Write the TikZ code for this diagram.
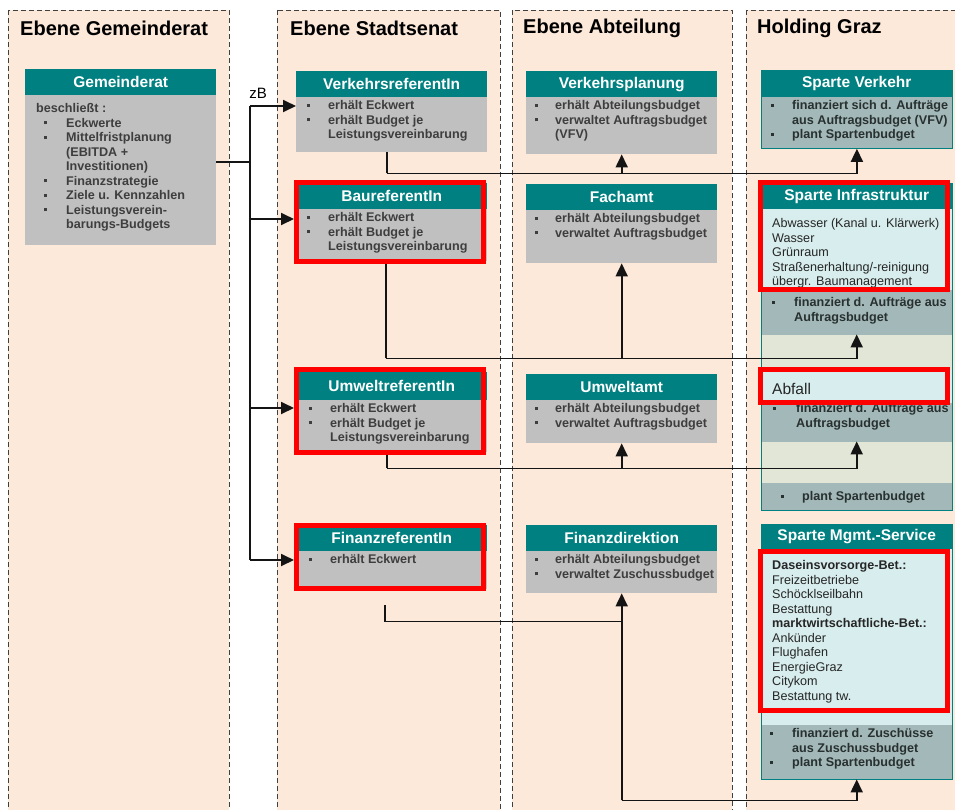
\documentclass[tikz,border=0pt]{standalone}
\usepackage{fontspec}
\setmainfont{Liberation Sans}
\usetikzlibrary{arrows.meta,calc}
\definecolor{peach}{RGB}{253,233,217}
\definecolor{tealh}{RGB}{0,128,128}
\definecolor{boxgrey}{RGB}{192,192,192}
\definecolor{spgrey}{RGB}{163,184,184}
\definecolor{spcyan}{RGB}{216,237,237}
\definecolor{splight}{RGB}{226,230,214}
\definecolor{txtgrey}{RGB}{62,62,62}
\definecolor{txtdark}{RGB}{40,48,48}
\definecolor{lineblk}{RGB}{20,20,20}
\newcommand{\fs}[2]{\fontsize{#1}{#2}\selectfont}
\newcommand{\bul}[1][21]{\makebox[#1pt][l]{\raisebox{2.6pt}{\rule{3.2pt}{3.2pt}}}}
\newcommand{\lns}[1]{\begin{tabular}[t]{@{}l@{}}#1\end{tabular}}
\tikzset{
  colrect/.style={draw=black!75, dash pattern=on 5pt off 3pt, fill=peach, line width=0.9pt},
  gbox/.style={fill=boxgrey, anchor=north west, inner sep=0pt, minimum width=191pt},
  spbox/.style={fill=spgrey, draw=tealh, line width=0.8pt, anchor=north west, inner sep=0pt, minimum width=191pt},
  cyanbox/.style={fill=spcyan, anchor=north west, inner sep=0pt, minimum width=191pt},
  bandbox/.style={fill=spgrey, anchor=north west, inner sep=0pt, minimum width=191pt},
  lightbox/.style={fill=splight, anchor=north west, inner sep=0pt, minimum width=191pt},
  hdr/.style={fill=tealh, anchor=north west, inner sep=0pt, minimum width=191pt, minimum height=26pt, text=white, font=\fs{15.5}{18}\bfseries},
  txt/.style={anchor=base west, inner sep=0pt, text=txtgrey, font=\fs{12.6}{14.5}\bfseries},
  sptxt/.style={anchor=base west, inner sep=0pt, text=txtdark, font=\fs{12.6}{14.5}\bfseries},
  regtxt/.style={anchor=base west, inner sep=0pt, text=black!85, font=\fs{12.6}{14.5}},
  heading/.style={anchor=west, inner sep=0pt, font=\fs{20}{24}\bfseries},
  conn/.style={draw=lineblk, line width=1.8pt},
  arr/.style={conn, -{Triangle[length=13pt,width=12pt]}},
  redframe/.style={draw=red, line width=5pt},
  tealframe/.style={draw=tealh, line width=0.8pt}
}
\begin{document}
\begin{tikzpicture}[x=1pt,y=-1pt]
\clip (0,0) rectangle (955,809);
\fill[white] (0,0) rectangle (955,809);
% columns
\draw[colrect] (8,10) rectangle (229,830);
\draw[colrect] (277,10) rectangle (500,830);
\draw[colrect] (512,10) rectangle (732,830);
\draw[colrect] (746,10) rectangle (975,830);
\node[heading] (h1) at (20,28) {Ebene Gemeinderat};
\node[heading] (h2) at (290,28) {Ebene Stadtsenat};
\node[heading] (h3) at (523,28) {Ebene Abteilung};
\node[heading] (h4) at (757,28) {Holding Graz};

% Gemeinderat
\node[gbox, minimum height=176pt] (gr) at (25,69) {};
\node[hdr] (grh) at (25,69) {Gemeinderat};
\node[txt] (grt) at (36,112.5) {\lns{beschließt :\\
 \hspace*{8pt}\bul[22]Eckwerte\\
 \hspace*{8pt}\bul[22]Mittelfristplanung\\
 \hspace*{30pt}(EBITDA +\\
 \hspace*{30pt}Investitionen)\\
 \hspace*{8pt}\bul[22]Finanzstrategie\\
 \hspace*{8pt}\bul[22]Ziele u. Kennzahlen\\
 \hspace*{8pt}\bul[22]Leistungsverein-\\
 \hspace*{30pt}barungs-Budgets}};

% Stadtsenat
\node[gbox, minimum height=81pt] (vr) at (296,71) {};
\node[hdr] (vrh) at (296,71) {VerkehrsreferentIn};
\node[txt] (vrt) at (307,109.5) {\lns{\bul erhält Eckwert\\ \bul erhält Budget je\\ \hspace*{21pt}Leistungsvereinbarung}};

\node[gbox, minimum height=78pt] (br) at (296,183) {};
\node[hdr] (brh) at (296,183) {BaureferentIn};
\node[txt] (brt) at (307,221.5) {\lns{\bul erhält Eckwert\\ \bul erhält Budget je\\ \hspace*{21pt}Leistungsvereinbarung}};

\node[gbox, minimum height=80pt] (ur) at (296,372) {};
\node[hdr, minimum height=28pt] (urh) at (296,372) {UmweltreferentIn};
\node[txt] (urt) at (309,412.5) {\lns{\bul erhält Eckwert\\ \bul erhält Budget je\\ \hspace*{21pt}Leistungsvereinbarung}};

\node[gbox, minimum height=64pt] (fr) at (296,525) {};
\node[hdr] (frh) at (296,525) {FinanzreferentIn};
\node[txt] (frt) at (309,563.5) {\lns{\bul erhält Eckwert}};

% Abteilung
\node[gbox, minimum height=83pt] (vp) at (526,71) {};
\node[hdr] (vph) at (526,71) {Verkehrsplanung};
\node[txt] (vpt) at (535,109.5) {\lns{\bul[20]erhält Abteilungsbudget\\ \bul[20]verwaltet Auftragsbudget\\ \hspace*{20pt}(VFV)}};

\node[gbox, minimum height=79pt] (fa) at (526,184) {};
\node[hdr] (fah) at (526,184) {Fachamt};
\node[txt] (fat) at (535,222.5) {\lns{\bul[20]erhält Abteilungsbudget\\ \bul[20]verwaltet Auftragsbudget}};

\node[gbox, minimum height=69pt] (ua) at (526,374) {};
\node[hdr] (uah) at (526,374) {Umweltamt};
\node[txt] (uat) at (535,412.5) {\lns{\bul[20]erhält Abteilungsbudget\\ \bul[20]verwaltet Auftragsbudget}};

\node[gbox, minimum height=68pt] (fd) at (526,525) {};
\node[hdr] (fdh) at (526,525) {Finanzdirektion};
\node[txt] (fdt) at (535,563.5) {\lns{\bul[20]erhält Abteilungsbudget\\ \bul[20]verwaltet Zuschussbudget}};

% Holding Graz
\node[spbox, minimum height=78pt] (sv) at (761,70) {};
\node[hdr, minimum height=27pt] (svh) at (761,70) {Sparte Verkehr};
\node[sptxt] (svt) at (771,109.5) {\lns{\bul finanziert sich d. Aufträge\\ \hspace*{21pt}aus Auftragsbudget (VFV)\\ \bul plant Spartenbudget}};

\node[cyanbox, minimum height=107pt] (si) at (761,183) {};
\node[hdr] (sih) at (761,183) {Sparte Infrastruktur};
\node[regtxt] (sit) at (772,227.5) {\lns{Abwasser (Kanal u. Klärwerk)\\ Wasser\\ Grünraum\\ Straßenerhaltung/-reinigung\\ übergr. Baumanagement}};
\node[bandbox, minimum height=45pt] (b1) at (761,290) {};
\node[lightbox, minimum height=35pt] (l1) at (761,335) {};
\node[cyanbox, minimum height=33pt] (abf) at (761,370) {};
\node[bandbox, minimum height=39pt] (b2) at (761,403) {};
\node[lightbox, minimum height=41pt] (l2) at (761,442) {};
\node[bandbox, minimum height=27pt] (b3) at (761,483) {};
\draw[tealframe] (si.north west) rectangle (b3.south east);
\node[sptxt] (b1t) at (772,306.5) {\lns{\bul[22]finanziert d. Aufträge aus\\ \hspace*{22pt}Auftragsbudget}};
\node[sptxt] (b2t) at (773,412.5) {\lns{\bul[23]finanziert d. Aufträge aus\\ \hspace*{23pt}Auftragsbudget}};
\node[sptxt] (b3t) at (781,500.5) {\lns{\bul plant Spartenbudget}};

\node[cyanbox, minimum height=201pt] (smc) at (761,524) {};
\node[bandbox, minimum height=54pt] (smb) at (761,725) {};
\draw[tealframe] (smc.north west) rectangle (smb.south east);
\node[hdr, minimum height=25pt] (smh) at (761,524) {Sparte Mgmt.-Service};
\node[regtxt] (smt) at (772,569.5) {\lns{\textbf{Daseinsvorsorge-Bet.:}\\ Freizeitbetriebe\\ Schöcklseilbahn\\ Bestattung\\ \textbf{marktwirtschaftliche-Bet.:}\\ Ankünder\\ Flughafen\\ EnergieGraz\\ Citykom\\ Bestattung tw.}};
\node[sptxt] (smbt) at (770,737.5) {\lns{\bul[22]finanziert d. Zuschüsse\\ \hspace*{22pt}aus Zuschussbudget\\ \bul[22]plant Spartenbudget}};

% connectors from Gemeinderat
\node[anchor=center, inner sep=0pt, font=\fs{15}{18}] (zb) at (258,93) {zB};
\coordinate (bus) at (250,162);
\coordinate (a1) at ($(vr.north west)+(0,35)$);
\coordinate (a2) at ($(br.north west)+(-2,36)$);
\coordinate (a3) at ($(ur.north west)+(-2,36)$);
\coordinate (a4) at ($(fr.north west)+(-2,35)$);
\draw[conn] (gr.east |- bus) -- (bus);
\draw[conn] (bus |- a1) -- (bus |- a4);
\draw[arr] (bus |- a1) -- (a1);
\draw[arr] (bus |- a2) -- (a2);
\draw[arr] (bus |- a3) -- (a3);
\draw[arr] (bus |- a4) -- (a4);

% Verkehr
\coordinate (d1) at ($(vr.south)+(-5,21)$);
\draw[conn] ($(vr.south)+(-5,0)$) -- (d1);
\draw[arr] (d1) -| (sv.south);
\draw[arr] (d1 -| vp.south) -- (vp.south);
% Bau
\coordinate (d2) at ($(br.south)+(-6,97)$);
\draw[conn] ($(br.south)+(-6,0)$) -- (d2);
\draw[arr] (d2) -| ($(b1.south)+(0,-1)$);
\draw[arr] (d2 -| fa.south) -- (fa.south);
% Umwelt
\coordinate (d3) at ($(ur.south)+(-5,16)$);
\draw[conn] ($(ur.south)+(-5,0)$) -- (d3);
\draw[arr] (d3) -| ($(b2.south)+(0,-1)$);
\draw[arr] (d3 -| ua.south) -- (ua.south);
% Finanz
\coordinate (d4) at ($(fr.south)+(-7,32)$);
\coordinate (d5) at ($(fd.south)+(0,207)$);
\draw[conn] ($(fr.south)+(-7,16)$) -- (d4) -- (d4 -| fd.south);
\draw[arr] (d5) -- (fd.south);
\draw[arr] (d5) -| (smb.south);

% red highlight frames
\draw[redframe] (296.5,182.5) rectangle (483.5,261.5);
\draw[redframe] (296.5,369.5) rectangle (483.5,452.5);
\draw[redframe] (296.5,525.5) rectangle (483.5,588.5);
\draw[redframe] (760.5,182.5) rectangle (947.5,289.5);
\draw[redframe] (760.5,369.5) rectangle (947.5,402.5);
\draw[redframe] (760.5,551.5) rectangle (947.5,710.5);
% Abfall label on top
\node[anchor=base west, inner sep=0pt, font=\fs{15.5}{18}, text=black!85] (abft) at (772,394.5) {Abfall};
\end{tikzpicture}
\end{document}
